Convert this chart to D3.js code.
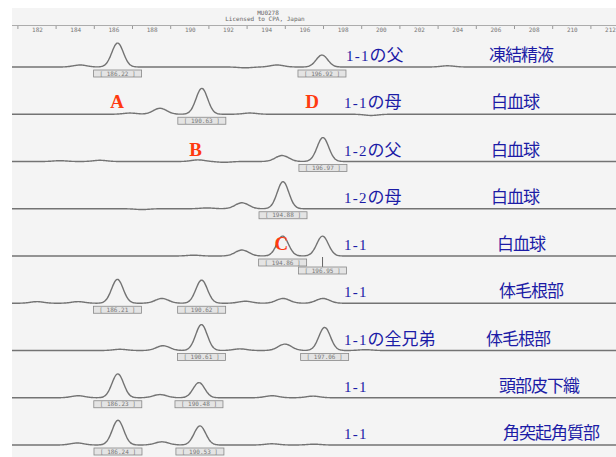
<!DOCTYPE html>
<html lang="ja">
  <head>
    <meta charset="UTF-8" />
    <title>DNA型 電気泳動図</title>
    <script src="https://cdn.jsdelivr.net/npm/d3@7"></script>
    <style>
      body {
        margin: 0;
        padding: 0;
        background: #fff;
      }
      svg {
        display: block;
      }
    </style>
  </head>
  <body>
    <script>
      // size ticks (bp) along the top axis
      const tickLabels = ['182', '184', '186', '188', '190', '192', '194', '196', '198', '200', '202', '204', '206', '208', '210', '212'];

      const samples = ['1-1の父', '1-1の母', '1-2の父', '1-2の母', '1-1', '1-1', '1-1の全兄弟', '1-1', '1-1'];
      const tissues = ['凍結精液', '白血球', '白血球', '白血球', '白血球', '体毛根部', '体毛根部', '頭部皮下織', '角突起角質部'];

      // called allele peaks per lane: [size bp, height]
      const calledPeaks = [
        [[186.22, 60], [196.92, 30]],
        [[190.63, 65]],
        [[196.97, 60]],
        [[194.88, 68]],
        [[194.86, 50], [196.95, 50]],
        [[186.21, 60], [190.62, 58]],
        [[190.61, 65], [197.06, 58]],
        [[186.23, 60], [190.48, 38]],
        [[186.24, 62], [190.53, 48]]
      ];

      // stutter and baseline bumps per lane: [size bp, height]
      const minorPeaks = [
        [[184.25, 5], [192.9, -2], [194.57, 5], [203.5, 3]],
        [[186.87, 3], [188.44, 15], [193.15, 3], [199.5, -3]],
        [[183.2, 2], [185.3, 3], [190.43, 4], [191.8, -2], [194.83, 15]],
        [[187.5, -2], [190.9, 2], [192.73, 15]],
        [[190.2, 2], [192.73, 15]],
        [[182.0, 4], [184.15, 4], [188.54, 12], [192.9, 5], [194.88, 12], [196.97, 12]],
        [[186.35, 3], [188.6, 12], [192.63, 4], [194.98, 16], [199.2, 2]],
        [[184.15, 5], [188.44, 8], [194.3, 5], [196.45, 4]],
        [[184.1, 5], [188.54, 8], [194.3, 3], [196.5, 2]]
      ];

      // red markers: [letter, lane, size bp]
      const markers = [['A', 1, 186.2], ['D', 1, 196.4], ['B', 2, 190.3], ['C', 4, 194.8]];

      const width = 616;
      const height = 457;

      // left edge of the tissue label in each lane
      const tissueX = [489, 491, 491, 491, 497, 499, 486, 499, 503];

      const svg = d3.select('body').append('svg').attr('width', width).attr('height', height);

      svg.append('rect').attr('x', 12).attr('y', 8).attr('width', width - 12).attr('height', height - 8).attr('fill', '#f4f4f4');

      const x = d3.scaleLinear().domain([182, 212]).range([37, 610]);
      const lane = d3.scalePoint().domain(d3.range(samples.length)).range([67, 445]);
      const h = d3.scaleLinear().domain([0, 100]).range([0, 40]);

      // header
      const header = svg.append('g').attr('font-family', 'DejaVu Sans Mono, monospace').attr('fill', '#666').attr('text-anchor', 'middle');
      header.append('text').attr('x', 268).attr('y', 15).attr('font-size', 6).text('MU0278');
      header.append('text').attr('x', 265).attr('y', 21).attr('font-size', 6).text('Licensed to CPA, Japan');

      // top axis
      const axis = d3
        .axisBottom(x)
        .tickValues(tickLabels.map(Number))
        .tickFormat((d, i) => tickLabels[i])
        .tickSize(0)
        .tickPadding(3);
      const ax = svg.append('g').attr('transform', 'translate(0,25)').call(axis);
      ax.select('.domain').remove();
      ax.selectAll('text').attr('font-size', 6).attr('fill', '#777').attr('font-family', 'DejaVu Sans Mono, monospace');
      svg.append('line').attr('x1', 12).attr('x2', width).attr('y1', 25.5).attr('y2', 25.5).attr('stroke', '#999').attr('stroke-width', 0.8);
      svg
        .append('g')
        .selectAll('line')
        .data(tickLabels.map((t) => +t - 1))
        .join('line')
        .attr('x1', (d) => x(d))
        .attr('x2', (d) => x(d))
        .attr('y1', 26)
        .attr('y2', 29)
        .attr('stroke', '#999');

      // traces
      const sizes = d3.range(x.invert(12), x.invert(width) + 0.05, 0.05);
      const trace = d3
        .line()
        .x((d) => x(d[0]))
        .y((d) => d[1])
        .curve(d3.curveBasis);

      samples.forEach((s, i) => {
        const y0 = lane(i);
        const peaks = calledPeaks[i].map((p) => [p[0], p[1], 0.3]).concat(minorPeaks[i].map((p) => [p[0], p[1], 0.35]));
        const pts = sizes.map((bp) => {
          let v = 0;
          peaks.forEach((p) => {
            v += p[1] * Math.exp(-((bp - p[0]) ** 2) / (2 * p[2] * p[2]));
          });
          return [bp, y0 - h(v)];
        });
        svg.append('path').attr('d', trace(pts)).attr('fill', 'none').attr('stroke', '#737373').attr('stroke-width', 1.4);

        // allele label boxes
        let lastRight = -Infinity;
        calledPeaks[i].forEach((p) => {
          const cx = x(p[0]);
          let by = y0 + 3;
          const shifted = cx - 25 < lastRight;
          if (shifted) {
            by = y0 + 11;
            svg.append('line').attr('x1', cx).attr('x2', cx).attr('y1', y0 + 1).attr('y2', by).attr('stroke', '#666').attr('stroke-width', 1);
          }
          lastRight = cx + 25;
          svg
            .append('rect')
            .attr('x', cx - 24)
            .attr('y', by)
            .attr('width', 48)
            .attr('height', 7)
            .attr('fill', '#e4e4e4')
            .attr('stroke', '#888')
            .attr('stroke-width', 0.8);
          svg
            .append('text')
            .attr('x', cx)
            .attr('y', by + 5.5)
            .attr('text-anchor', 'middle')
            .attr('font-size', 6)
            .attr('font-family', 'DejaVu Sans Mono, monospace')
            .attr('fill', '#777')
            .text(`[ ${p[0].toFixed(2)} ]`);
        });

        // sample and tissue labels
        const m = s.match(/^([0-9-]+)(.*)$/);
        const t = svg
          .append('text')
          .attr('x', i === 0 ? 346 : 344)
          .attr('y', y0 - 6)
          .attr('fill', '#1c1ca6');
        t.append('tspan')
          .attr('font-family', 'Liberation Serif, serif')
          .attr('font-size', 15)
          .attr('letter-spacing', 1.2)
          .text(m[1]);
        if (m[2]) {
          t.append('tspan').attr('font-family', 'Noto Sans CJK JP').attr('font-size', 17).text(m[2]);
        }
        svg
          .append('text')
          .attr('x', tissueX[i])
          .attr('y', y0 - 6)
          .attr('font-family', 'Noto Sans CJK JP')
          .attr('font-size', 17)
          .attr('letter-spacing', -1)
          .attr('fill', '#1c1ca6')
          .text(tissues[i]);
      });

      // red allele markers
      svg
        .append('g')
        .selectAll('text')
        .data(markers)
        .join('text')
        .attr('x', (d) => x(d[2]))
        .attr('y', (d) => lane(d[1]) - 6)
        .attr('text-anchor', 'middle')
        .attr('font-family', 'Liberation Serif, serif')
        .attr('font-weight', 'bold')
        .attr('font-size', 19)
        .attr('fill', '#ff3a10')
        .text((d) => d[0]);
    </script>
  </body>
</html>
